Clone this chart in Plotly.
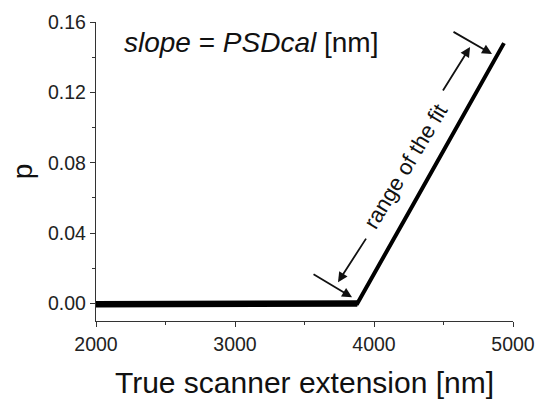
import plotly.graph_objects as go

# Scanner extension (nm) and photodiode signal p
extension_nm = [2000, 2500, 3000, 3500, 3880, 4280, 4600, 4935]
p_signal = [-0.0005, -0.0004, -0.0002, 0.0, 0.0, 0.056, 0.101, 0.148]

x_ticks = [2000, 3000, 4000, 5000]
y_ticks = [0.00, 0.04, 0.08, 0.12, 0.16]

font_family = "Liberation Sans, Arial, sans-serif"
ink = "#111111"

fig = go.Figure()

# noisy baseline before contact drawn a little heavier
fig.add_trace(go.Scatter(
    x=extension_nm[:5], y=p_signal[:5], mode="lines",
    line=dict(color="black", width=6.5), showlegend=False, hoverinfo="skip",
))
fig.add_trace(go.Scatter(
    x=extension_nm, y=p_signal, mode="lines",
    line=dict(color="black", width=4), showlegend=False,
))

arrow = dict(showarrow=True, arrowhead=2, arrowsize=1.1, arrowwidth=1.8,
             arrowcolor=ink, standoff=0, text="", xref="x", yref="y")

# markers at the two ends of the fitted range
fig.add_annotation(x=4849, y=0.1418, ax=-40, ay=-23, **arrow)
fig.add_annotation(x=3842, y=0.0035, ax=-40, ay=-24, **arrow)
# span arrows along the fitted segment
fig.add_annotation(x=4691, y=0.1458, ax=-28, ay=45, **arrow)
fig.add_annotation(x=3741, y=0.0121, ax=29, ay=-45, **arrow)

fig.add_annotation(
    x=4225, y=0.0780, xref="x", yref="y", text="range of the fit",
    showarrow=False, textangle=-59,
    font=dict(family=font_family, size=22, color=ink),
)
fig.add_annotation(
    x=2190, y=0.1486, xref="x", yref="y", xanchor="left", yanchor="middle",
    text="<i>slope</i> = <i>PSDcal</i> [nm]", showarrow=False,
    font=dict(family=font_family, size=28, color=ink),
)

axis_common = dict(
    showgrid=False, zeroline=False, showline=True, linecolor="#333333",
    linewidth=1.3, ticks="outside", ticklen=5, tickwidth=1.3,
    tickcolor="#333333", mirror=False, automargin=False,
    tickfont=dict(family=font_family, size=19.5, color="#222222"),
)

fig.update_xaxes(
    range=[2000, 5000], tickvals=x_ticks,
    minor=dict(ticks="outside", ticklen=3, dtick=500, tick0=2000,
               tickcolor="#333333", tickwidth=1.2),
    title=dict(text="True scanner extension [nm]", standoff=18,
               font=dict(family=font_family, size=30, color=ink)),
    **axis_common,
)
fig.update_yaxes(
    range=[-0.01, 0.16], tickvals=y_ticks, tickformat=".2f",
    minor=dict(ticks="outside", ticklen=3, dtick=0.02, tick0=0,
               tickcolor="#333333", tickwidth=1.2),
    title=dict(text="p", standoff=7,
               font=dict(family=font_family, size=28, color=ink)),
    **axis_common,
)

fig.update_layout(
    width=537, height=401,
    margin=dict(l=96, r=24, t=22, b=80),
    paper_bgcolor="white", plot_bgcolor="white",
    showlegend=False,
)

fig.write_html("out.html")
